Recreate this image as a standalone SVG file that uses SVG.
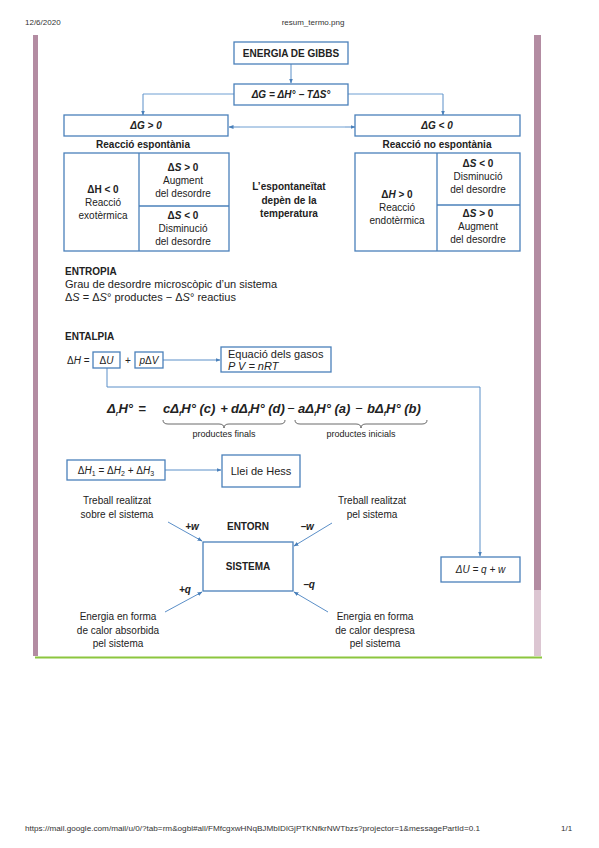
<svg xmlns="http://www.w3.org/2000/svg" width="599" height="848" viewBox="0 0 599 848">
<defs>
<marker id="ah" viewBox="0 0 10 10" refX="9" refY="5" markerWidth="5" markerHeight="5" orient="auto-start-reverse" markerUnits="userSpaceOnUse">
<path d="M0,1 L10,5 L0,9 z" fill="#4a80ba"/>
</marker>
<style>
text{font-family:"Liberation Sans",Arial,sans-serif;fill:#222;}
.hdr{font-size:8px;fill:#333;}
.box{fill:#fff;stroke:#4a80ba;stroke-width:1.3;}
.ln{fill:none;stroke:#6e9fd2;stroke-width:1;}
.arr{fill:none;stroke:#5b8fc8;stroke-width:1;marker-end:url(#ah);}
.b{font-weight:bold;}
.bi{font-weight:bold;font-style:italic;}
.m{text-anchor:middle;}
.s10{font-size:10px;}
.s11{font-size:11px;}
.sub{font-size:7px;}
.f{font-size:13px;font-weight:bold;font-style:italic;}
</style>
</defs>
<rect width="599" height="848" fill="#fff"/>
<text class="hdr" x="25" y="25">12/6/2020</text>
<text class="hdr m" x="313" y="25">resum_termo.png</text>
<text class="hdr" x="25" y="831" textLength="455" lengthAdjust="spacingAndGlyphs">https://mail.google.com/mail/u/0/?tab=rm&amp;ogbl#all/FMfcgxwHNqBJMbIDlGjPTKNfkrNWTbzs?projector=1&amp;messagePartId=0.1</text>
<text class="hdr" x="561" y="831">1/1</text>

<g id="page">
<rect x="33" y="35" width="5" height="621" fill="#b38ca2"/>
<rect x="534" y="35" width="7" height="555" fill="#b38ca2"/>
<rect x="534" y="590" width="7" height="66" fill="#dcc6d2"/>
<line x1="35" y1="657.5" x2="542" y2="657.5" stroke="#8cc63f" stroke-width="2"/>
</g>

<g id="connectors">
<line class="arr" x1="291" y1="64" x2="291" y2="83"/>
<polyline class="ln" points="143,94 443,94"/>
<line class="arr" x1="143" y1="94" x2="143" y2="115"/>
<line class="arr" x1="443" y1="94" x2="443" y2="115"/>
<line class="arr" x1="240" y1="127" x2="229" y2="127"/>
<line class="ln" x1="240" y1="127" x2="345" y2="127"/>
<line class="arr" x1="345" y1="127" x2="355" y2="127"/>
<line class="arr" x1="163" y1="360" x2="220" y2="360"/>
<polyline class="arr" points="107,368 107,387 480,387 480,556"/>
<line class="arr" x1="165" y1="470" x2="221" y2="470"/>
<line class="arr" x1="168" y1="522" x2="202" y2="541"/>
<line class="arr" x1="332" y1="523" x2="294" y2="546"/>
<line class="arr" x1="165" y1="612" x2="202" y2="592"/>
<line class="arr" x1="328" y1="612" x2="294" y2="592"/>
</g>

<g id="gibbs">
<rect class="box" x="234" y="42" width="114" height="22"/>
<text class="b s10 m" x="291" y="57">ENERGIA DE GIBBS</text>
</g>
<g id="dg">
<rect class="box" x="234" y="84" width="114" height="21"/>
<text class="bi s10 m" x="291" y="98">ΔG = ΔH° − TΔS°</text>
</g>

<g id="dg-pos">
<rect class="box" x="64" y="115" width="164" height="21"/>
<text class="bi s10 m" x="146" y="129">ΔG &gt; 0</text>
<text class="b s10 m" x="143" y="148">Reacció espontània</text>
</g>
<g id="dg-neg">
<rect class="box" x="355" y="115" width="165" height="21"/>
<text class="bi s10 m" x="437" y="129">ΔG &lt; 0</text>
<text class="b s10 m" x="437" y="148">Reacció no espontània</text>
</g>

<g id="table-left">
<rect class="box" x="64" y="153" width="165" height="98"/>
<line class="box" x1="139" y1="153" x2="139" y2="251"/>
<line class="box" x1="139" y1="206" x2="229" y2="206"/>
<text class="s10 m" x="103" y="193"><tspan class="b">ΔH &lt; 0</tspan></text>
<text class="s10 m" x="103" y="206">Reacció</text>
<text class="s10 m" x="103" y="219">exotèrmica</text>
<text class="s10 m" x="183" y="171"><tspan class="b">Δ<tspan font-style="italic">S</tspan> &gt; 0</tspan></text>
<text class="s10 m" x="183" y="184">Augment</text>
<text class="s10 m" x="183" y="197">del desordre</text>
<text class="s10 m" x="183" y="219"><tspan class="b">Δ<tspan font-style="italic">S</tspan> &lt; 0</tspan></text>
<text class="s10 m" x="183" y="232">Disminució</text>
<text class="s10 m" x="183" y="245">del desordre</text>
</g>

<g id="table-right">
<rect class="box" x="355" y="153" width="165" height="98"/>
<line class="box" x1="437" y1="153" x2="437" y2="251"/>
<line class="box" x1="437" y1="205" x2="520" y2="205"/>
<text class="s10 m" x="397" y="198"><tspan class="b">Δ<tspan font-style="italic">H</tspan> &gt; 0</tspan></text>
<text class="s10 m" x="397" y="211">Reacció</text>
<text class="s10 m" x="397" y="224">endotèrmica</text>
<text class="s10 m" x="478" y="167"><tspan class="b">Δ<tspan font-style="italic">S</tspan> &lt; 0</tspan></text>
<text class="s10 m" x="478" y="180">Disminució</text>
<text class="s10 m" x="478" y="193">del desordre</text>
<text class="s10 m" x="478" y="217"><tspan class="b">Δ<tspan font-style="italic">S</tspan> &gt; 0</tspan></text>
<text class="s10 m" x="478" y="230">Augment</text>
<text class="s10 m" x="478" y="243">del desordre</text>
</g>

<g id="spont">
<text class="b s10 m" x="289" y="190">L’espontaneïtat</text>
<text class="b s10 m" x="289" y="204">depèn de la</text>
<text class="b s10 m" x="289" y="217">temperatura</text>
</g>

<g id="entropia">
<text class="b s10" x="65" y="275">ENTROPIA</text>
<text class="s11" x="65" y="288">Grau de desordre microscòpic d’un sistema</text>
<text class="s11" x="65" y="301">Δ<tspan font-style="italic">S</tspan> = Δ<tspan font-style="italic">S</tspan>° productes − Δ<tspan font-style="italic">S</tspan>° reactius</text>
</g>

<g id="entalpia">
<text class="b s10" x="65" y="340">ENTALPIA</text>
<text class="s10" x="67" y="364">Δ<tspan font-style="italic">H</tspan> =</text>
</g>
<g id="du-box">
<rect class="box" x="93" y="352" width="27" height="16"/>
<text class="s10 m" x="106.5" y="364">Δ<tspan font-style="italic">U</tspan></text>
</g>
<text class="s10 m" x="128" y="364">+</text>
<g id="pdv-box">
<rect class="box" x="135" y="352" width="28" height="16"/>
<text class="s10 m" x="149" y="364"><tspan font-style="italic">p</tspan>Δ<tspan font-style="italic">V</tspan></text>
</g>
<g id="gasos">
<rect class="box" x="221" y="347" width="110" height="25"/>
<text class="s11" x="228" y="358">Equació dels gasos</text>
<text class="s11" x="228" y="370" font-style="italic">P V = nRT</text>
</g>

<g id="formula">
<text class="f" x="107" y="413">Δ<tspan class="sub" dy="3">r</tspan><tspan dy="-3">H°</tspan></text>
<text class="f" x="142" y="413" text-anchor="middle">=</text>
<text class="f" x="163" y="413">cΔ<tspan class="sub" dy="3">f</tspan><tspan dy="-3">H° (c)</tspan></text>
<text class="f" x="224" y="413" text-anchor="middle">+</text>
<text class="f" x="231" y="413">dΔ<tspan class="sub" dy="3">f</tspan><tspan dy="-3">H° (d)</tspan></text>
<text font-size="13" x="291" y="413" text-anchor="middle">−</text>
<text class="f" x="298" y="413">aΔ<tspan class="sub" dy="3">f</tspan><tspan dy="-3">H° (a)</tspan></text>
<text font-size="13" x="359" y="413" text-anchor="middle">−</text>
<text class="f" x="367" y="413">bΔ<tspan class="sub" dy="3">f</tspan><tspan dy="-3">H° (b)</tspan></text>
<path d="M163,420 q0,4 5,4 L219,424 q5,0 5,4 q0,-4 5,-4 L280,424 q5,0 5,-4" fill="none" stroke="#444" stroke-width="0.8"/>
<path d="M295,420 q0,4 5,4 L356,424 q5,0 5,4 q0,-4 5,-4 L422,424 q5,0 5,-4" fill="none" stroke="#444" stroke-width="0.8"/>
<text class="m" font-size="9" x="224" y="437">productes finals</text>
<text class="m" font-size="9" x="361" y="437">productes inicials</text>
</g>

<g id="hess-eq">
<rect class="box" x="67" y="460" width="98" height="20"/>
<text class="s10 m" x="116" y="474">Δ<tspan font-style="italic">H</tspan><tspan class="sub" dy="2">1</tspan><tspan dy="-2"> = Δ</tspan><tspan font-style="italic">H</tspan><tspan class="sub" dy="2">2</tspan><tspan dy="-2"> + Δ</tspan><tspan font-style="italic">H</tspan><tspan class="sub" dy="2">3</tspan></text>
</g>
<g id="hess">
<rect class="box" x="222" y="455" width="78" height="32"/>
<text class="s11 m" x="261" y="475">Llei de Hess</text>
</g>

<g id="labels">
<text class="s10 m" x="117" y="504">Treball realitzat</text>
<text class="s10 m" x="117" y="518">sobre el sistema</text>
<text class="s10 m" x="372" y="504">Treball realitzat</text>
<text class="s10 m" x="372" y="518">pel sistema</text>
<text class="s10 m" x="118" y="620">Energia en forma</text>
<text class="s10 m" x="118" y="634">de calor absorbida</text>
<text class="s10 m" x="118" y="647">pel sistema</text>
<text class="s10 m" x="375" y="620">Energia en forma</text>
<text class="s10 m" x="375" y="634">de calor despresa</text>
<text class="s10 m" x="375" y="647">pel sistema</text>
<text class="bi s10 m" x="192" y="530">+w</text>
<text class="bi s10 m" x="307" y="530">−w</text>
<text class="bi s10 m" x="185" y="593">+q</text>
<text class="bi s10 m" x="309" y="588">−q</text>
<text class="b s10 m" x="248" y="530">ENTORN</text>
</g>

<g id="sistema">
<rect class="box" x="203" y="542" width="90" height="49"/>
<text class="b s10 m" x="248" y="570">SISTEMA</text>
</g>

<g id="du-eq">
<rect class="box" x="441" y="557" width="79" height="25"/>
<text class="s10 m" x="480.5" y="573" font-style="italic">ΔU = q + w</text>
</g>
</svg>
